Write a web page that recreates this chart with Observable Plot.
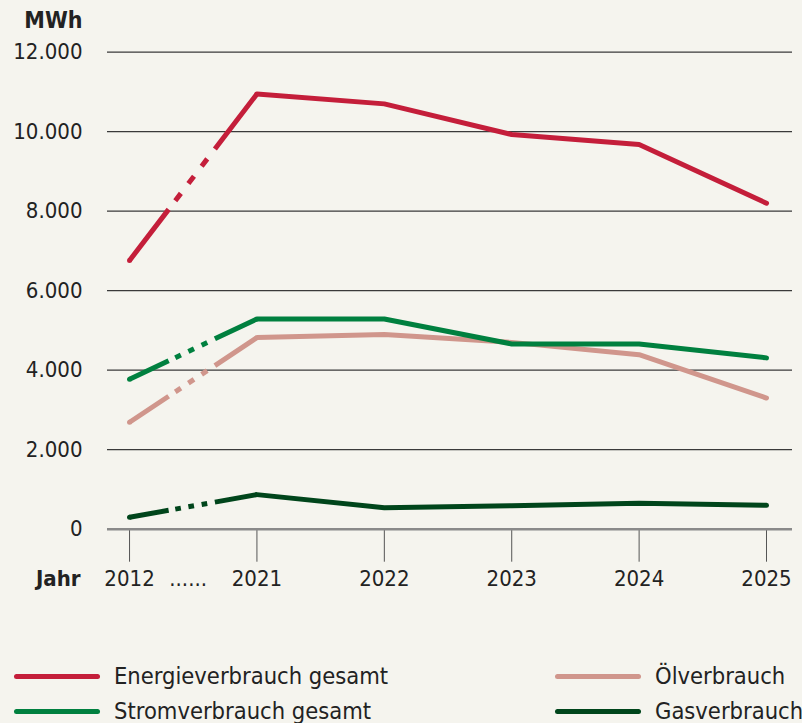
<!DOCTYPE html>
<html><head><meta charset="utf-8">
<script src="https://cdn.jsdelivr.net/npm/d3@7"></script>
<script src="https://cdn.jsdelivr.net/npm/@observablehq/plot@0.6"></script>
<style>
body{margin:0;background:#f5f4ee;}
#wrap{position:relative;width:802px;height:723px;overflow:hidden;background:#f5f4ee;font-family:"DejaVu Sans Condensed","DejaVu Sans",sans-serif;}
.leg{position:absolute;height:24px;line-height:24px;display:flex;align-items:center;font-size:23.5px;color:#222;white-space:nowrap;}
.sw{width:86px;height:5px;border-radius:3px;margin-right:14px;flex:none;}
</style></head><body><div id="wrap"></div>
<script>
// ---- data ----
const years = ["2012", "2021", "2022", "2023", "2024", "2025"];
const energie = [6760, 10950, 10700, 9930, 9680, 8200];
const strom   = [3770, 5290, 5290, 4660, 4660, 4310];
const oel     = [2690, 4820, 4900, 4700, 4390, 3300];
const gas     = [300, 870, 540, 590, 650, 600];
const yTicks = [0, 2000, 4000, 6000, 8000, 10000, 12000];
const seriesNames = ["Energieverbrauch gesamt", "Stromverbrauch gesamt", "Ölverbrauch", "Gasverbrauch"];
const seriesColors = ["#c41e3a", "#00803f", "#d0968c", "#00451b"];
const seriesValues = [energie, strom, oel, gas];
const gapLabel = ["......"];
const yUnit = ["MWh"];
const xTitle = ["Jahr"];
// dash pattern of the broken 2012 -> 2021 segment, in percent of its length
const gapPattern = [30.7, 5.2, 4.4, 5.9, 4.4, 6, 4.4, 6, 33];

const FONT = '"DejaVu Sans Condensed","DejaVu Sans",sans-serif';
const fmt = d => d3.format(",")(d).replace(/,/g, ".");
const xIdx = years.map((_, i) => i);

// draw order: Öl, Gas, Strom, Energie
const order = [2, 3, 1, 0];
const lineMarks = [];
for (const s of order) {
  const rows = seriesValues[s].map((v, i) => ({i, v}));
  const col = seriesColors[s];
  lineMarks.push(Plot.line(rows.slice(0, 2), {x: "i", y: "v", stroke: col, strokeWidth: 5,
    strokeLinecap: "butt", className: "firstseg"}));
  lineMarks.push(Plot.dot(rows.slice(0, 1), {x: "i", y: "v", r: 2.5, fill: col, stroke: "none"}));
  lineMarks.push(Plot.line(rows.slice(1), {x: "i", y: "v", stroke: col, strokeWidth: 5,
    strokeLinecap: "round", strokeLinejoin: "round"}));
}

const chart = Plot.plot({
  width: 802,
  height: 610,
  marginLeft: 107,
  marginRight: 10,
  marginTop: 51.7,
  marginBottom: 81.3,
  style: {background: "#f5f4ee", fontFamily: FONT, fontSize: "22px", color: "#222"},
  x: {type: "linear", domain: [-0.173, 5.204]},
  y: {domain: [0, 12000]},
  marks: [
    Plot.ruleY(yTicks.filter(d => d > 0), {stroke: "#3a3a3a", strokeWidth: 1.3}),
    Plot.axisY({ticks: yTicks, tickSize: 0, tickPadding: 25, tickFormat: fmt, fontSize: 22, label: null, fill: "#222"}),
    Plot.axisX({ticks: xIdx, tickSize: 33, tickPadding: 8, tickFormat: i => years[i], fontSize: 22, label: null, stroke: "#555", fill: "#222"}),
    Plot.ruleY([0], {stroke: "#8a8a8a", strokeWidth: 2.5}),
    ...lineMarks,
    Plot.text(yUnit, {frameAnchor: "top-left", dx: -25, dy: -31.7, textAnchor: "end", lineAnchor: "middle", fontWeight: "bold", fontSize: 23, fill: "#222"}),
    Plot.text(xTitle, {frameAnchor: "bottom-left", dx: -27, dy: 49.3, textAnchor: "end", lineAnchor: "middle", fontWeight: "bold", fontSize: 22, fill: "#222"}),
    Plot.text(gapLabel, {x: 0.46, frameAnchor: "bottom", dy: 49.3, textAnchor: "middle", lineAnchor: "middle", fontSize: 22, fill: "#222"})
  ]
});

const wrap = document.getElementById("wrap");
wrap.appendChild(chart);
chart.style.position = "absolute";
chart.style.left = "0px";
chart.style.top = "0px";

// scale the dash pattern to the actual length of each broken segment
d3.select(chart).selectAll('.firstseg path').each(function () {
  const L = this.getTotalLength();
  if (L > 0) this.setAttribute("stroke-dasharray", gapPattern.map(p => (p * L / 100).toFixed(2)).join(" "));
});

// legend
const legPos = [[14, 664], [14, 699], [555, 664], [555, 699]];
[0, 1, 2, 3].forEach((s, k) => {
  const d = document.createElement("div");
  d.className = "leg";
  d.style.left = legPos[k][0] + "px";
  d.style.top = legPos[k][1] + "px";
  const sw = document.createElement("span");
  sw.className = "sw";
  sw.style.background = seriesColors[s];
  const t = document.createElement("span");
  t.textContent = seriesNames[s];
  d.appendChild(sw); d.appendChild(t);
  wrap.appendChild(d);
});
</script></body></html>
